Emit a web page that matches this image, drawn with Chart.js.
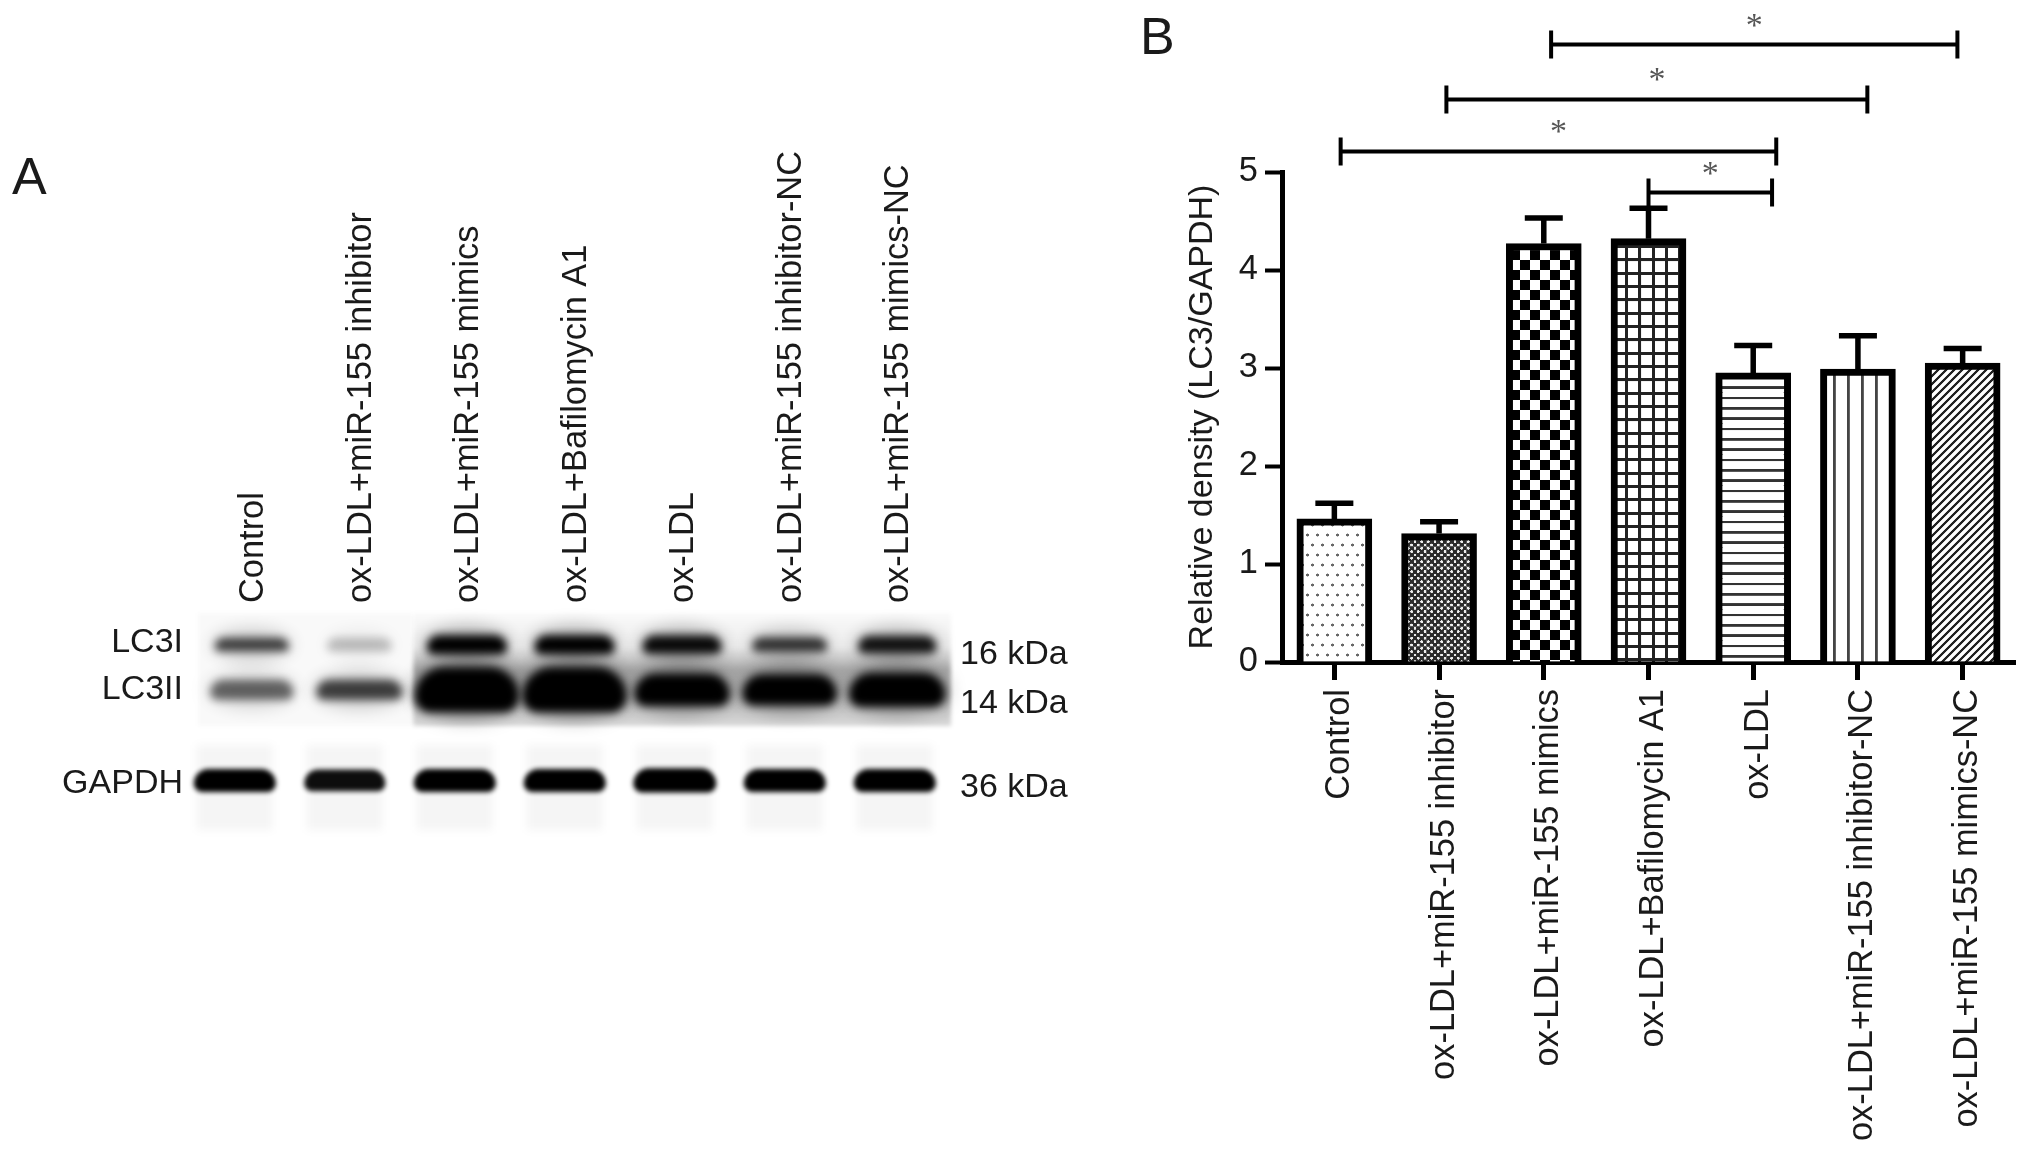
<!DOCTYPE html>
<html>
<head>
<meta charset="utf-8">
<title>LC3 blot and density</title>
<script src="https://cdn.jsdelivr.net/npm/chart.js@4"></script>
<style>
  html, body { margin: 0; padding: 0; background: #fff; }
  #page { position: relative; width: 2032px; height: 1153px; overflow: hidden; font-family: "Liberation Sans", Arial, sans-serif; color: #1a1a1a; }
  canvas { position: absolute; top: 0; }
  #blotChart { left: 0; }
  #densityChart { left: 1100px; }
  .note { position: absolute; font-size: 34px; line-height: 38px; white-space: nowrap; }
  .panel { position: absolute; font-size: 52px; line-height: 60px; }
</style>
</head>
<body>
<div id="page">
  <canvas id="blotChart" width="1100" height="1153"></canvas>
  <canvas id="densityChart" width="932" height="1153"></canvas>
  <div class="panel" style="left:12px;top:146px">A</div>
  <div class="panel" style="left:1140px;top:6px">B</div>
  <div class="note" style="right:1849px;top:621px">LC3I</div>
  <div class="note" style="right:1849px;top:668px">LC3II</div>
  <div class="note" style="right:1849px;top:762px">GAPDH</div>
  <div class="note" style="left:960px;top:633px">16 kDa</div>
  <div class="note" style="left:960px;top:682px">14 kDa</div>
  <div class="note" style="left:960px;top:766px">36 kDa</div>
</div>
<script>
const groups = [
  "Control",
  "ox-LDL+miR-155 inhibitor",
  "ox-LDL+miR-155 mimics",
  "ox-LDL+Bafilomycin A1",
  "ox-LDL",
  "ox-LDL+miR-155 inhibitor-NC",
  "ox-LDL+miR-155 mimics-NC"
];

// Panel B
const density = [1.46, 1.31, 4.27, 4.32, 2.95, 2.99, 3.05];
const errorTop = [1.62, 1.43, 4.53, 4.63, 3.23, 3.33, 3.2];
const yTicks = [0, 1, 2, 3, 4, 5];

// significance brackets: group index at each end (fractional), height in axis units
const bracketFrom = [0.06, 1.07, 2.07, 3.0];
const bracketTo = [4.22, 5.09, 5.95, 4.18];
const bracketY = [5.21, 5.74, 6.3, 4.79];

// Panel A, relative band strength per lane
const blotRows = ["LC3I", "LC3II", "", "GAPDH"];
const lc3I = [0.7, 0.22, 1, 1, 0.95, 0.75, 0.9];
const lc3II = [0.55, 0.7, 1.6, 1.6, 1.15, 1.1, 1.2];
const gapdh = [1, 0.95, 1, 1, 1.05, 1, 1];

const INK = "#000";
const TEXT = "#1a1a1a";
const FONT = "Liberation Sans";

function makePattern(w, h, paint) {
  const c = document.createElement("canvas");
  c.width = Math.round(w * 3);
  c.height = Math.round(h * 3);
  const g = c.getContext("2d");
  g.scale(3, 3);
  g.fillStyle = "#fff";
  g.fillRect(0, 0, w, h);
  paint(g);
  const p = g.createPattern(c, "repeat");
  p.setTransform(new DOMMatrix().scale(1 / 3));
  return p;
}

function dot(g, x, y, r) {
  g.beginPath();
  g.arc(x, y, r, 0, Math.PI * 2);
  g.fill();
}

const patterns = [
  makePattern(10, 20, g => {
    g.fillStyle = "#666";
    dot(g, 2.5, 5, 1.5);
    dot(g, 7.5, 15, 1.5);
  }),
  makePattern(6.6, 6.6, g => {
    g.fillStyle = "#2c2c2c";
    g.fillRect(0, 0, 6.6, 6.6);
    g.fillStyle = "#eee";
    dot(g, 1.65, 1.65, 1.35);
    dot(g, 4.95, 4.95, 1.35);
  }),
  makePattern(20, 20, g => {
    g.fillStyle = "#000";
    g.fillRect(0, 0, 10, 10);
    g.fillRect(10, 10, 10, 10);
  }),
  makePattern(13.4, 13.4, g => {
    g.fillStyle = "#222";
    g.fillRect(0, 5, 13.4, 3);
    g.fillRect(5, 0, 3, 13.4);
  }),
  makePattern(13.4, 10.2, g => {
    g.fillStyle = "#333";
    g.fillRect(0, 4, 13.4, 2.6);
  }),
  makePattern(14, 14, g => {
    g.fillStyle = "#444";
    g.fillRect(5, 0, 2.6, 14);
  }),
  makePattern(8, 8, g => {
    g.strokeStyle = "#222";
    g.lineWidth = 2.6;
    g.beginPath();
    g.moveTo(-2, 2);
    g.lineTo(2, -2);
    g.moveTo(-2, 10);
    g.lineTo(10, -2);
    g.moveTo(6, 10);
    g.lineTo(10, 6);
    g.stroke();
  })
];

// error whiskers, brackets and stars all go through the chart's scales
const annotations = {
  id: "annotations",
  afterDatasetsDraw(chart) {
    const { ctx, scales: { x, y } } = chart;
    ctx.save();
    ctx.strokeStyle = INK;
    ctx.lineCap = "butt";
    density.forEach((v, i) => {
      const px = x.getPixelForValue(i);
      const top = y.getPixelForValue(errorTop[i]);
      ctx.lineWidth = 5.5;
      ctx.beginPath();
      ctx.moveTo(px, y.getPixelForValue(v));
      ctx.lineTo(px, top);
      ctx.moveTo(px - 19, top);
      ctx.lineTo(px + 19, top);
      ctx.stroke();
    });
    ctx.lineWidth = 4;
    ctx.textAlign = "center";
    ctx.textBaseline = "middle";
    ctx.font = "34px 'Liberation Serif'";
    bracketY.forEach((v, i) => {
      const a = x.getPixelForValue(bracketFrom[i]);
      const b = x.getPixelForValue(bracketTo[i]);
      const h = y.getPixelForValue(v);
      ctx.beginPath();
      ctx.moveTo(a, h - 14);
      ctx.lineTo(a, h + 14);
      ctx.moveTo(b, h - 14);
      ctx.lineTo(b, h + 14);
      ctx.moveTo(a, h);
      ctx.lineTo(b, h);
      ctx.stroke();
      ctx.fillStyle = "#555";
      ctx.fillText("*", (a + b) / 2, h - 18);
    });
    ctx.restore();
  }
};

new Chart(document.getElementById("densityChart").getContext("2d"), {
  type: "bar",
  data: {
    labels: groups,
    datasets: [{
      data: density,
      backgroundColor: patterns,
      borderColor: INK,
      borderWidth: 7,
      barThickness: 75
    }]
  },
  plugins: [annotations],
  options: {
    responsive: false,
    animation: false,
    layout: { padding: { left: 0, top: 172, right: 17, bottom: 0 } },
    plugins: { legend: { display: false }, tooltip: { enabled: false } },
    scales: {
      x: {
        afterFit(s) { s.height = 491; },
        grid: { offset: false, drawOnChartArea: false, tickLength: 18, tickWidth: 5, tickColor: INK },
        border: { display: true, color: INK, width: 5 },
        ticks: {
          autoSkip: false, minRotation: 90, maxRotation: 90, padding: 9, labelOffset: 5,
          color: TEXT, font: { family: FONT, size: 34.4 }
        }
      },
      y: {
        min: 0,
        max: 5,
        afterFit(s) { s.width = 182; },
        afterBuildTicks(s) { s.ticks = yTicks.map(value => ({ value })); },
        grid: { drawOnChartArea: false, tickLength: 17, tickWidth: 4, tickColor: INK },
        border: { display: true, color: INK, width: 5 },
        ticks: { padding: 7, color: TEXT, font: { family: FONT, size: 34.4 } },
        title: {
          display: true,
          text: "Relative density (LC3/GAPDH)",
          color: TEXT,
          font: { family: FONT, size: 34 },
          padding: { top: 82, bottom: 0 }
        }
      }
    }
  }
});

// film background and the blurred bands
const blotFilm = {
  id: "blotFilm",
  beforeDatasetsDraw(chart) {
    const { ctx, chartArea: { left, right } } = chart;
    const laneW = (right - left) / groups.length;
    const top = 613, bottom = 726;
    ctx.save();
    ctx.filter = "blur(2px)";
    ctx.fillStyle = "rgba(0,0,0,0.025)";
    ctx.fillRect(left, top, laneW * 2, bottom - top);
    const grad = ctx.createLinearGradient(0, top, 0, bottom);
    grad.addColorStop(0, "rgba(0,0,0,0.02)");
    grad.addColorStop(0.3, "rgba(0,0,0,0.08)");
    grad.addColorStop(0.5, "rgba(0,0,0,0.34)");
    grad.addColorStop(0.8, "rgba(0,0,0,0.26)");
    grad.addColorStop(1, "rgba(0,0,0,0.15)");
    ctx.fillStyle = grad;
    ctx.fillRect(left + laneW * 2, top, right - left - laneW * 2, bottom - top);
    ctx.restore();

    // the GAPDH row runs slightly left of the LC3 rows on the film, more so in the first lanes
    const rows = [
      { base: 30, ry: 9.5, blur: 4.5, halo: 0.3, shift: () => 0 },
      { base: 36, ry: 14, blur: 4.5, halo: 0.3, shift: () => 0 },
      { base: 31, ry: 11.5, blur: 2.5, halo: 0, shift: i => -17 * (1 - i / groups.length) }
    ];
    rows.forEach((row, d) => {
      chart.getDatasetMeta(d).data.forEach((pt, i) => {
        const v = chart.data.datasets[d].data[i].v;
        const w = row.base + 10 * v;
        const h = row.ry * Math.max(0.7, v);
        const cx = pt.x + row.shift(i);
        ctx.save();
        if (d === 2) {
          // faint lane smear behind the loading control
          ctx.filter = "blur(4px)";
          ctx.fillStyle = "rgba(0,0,0,0.04)";
          ctx.fillRect(cx - 38, 745, 76, 85);
        }
        if (row.halo) {
          ctx.filter = "blur(9px)";
          ctx.fillStyle = `rgba(0,0,0,${row.halo * Math.min(1, v)})`;
          ctx.beginPath();
          ctx.ellipse(cx, pt.y, w + 3, h + 8, 0, 0, Math.PI * 2);
          ctx.fill();
        }
        ctx.filter = `blur(${row.blur}px)`;
        ctx.fillStyle = `rgba(0,0,0,${Math.min(1, v)})`;
        ctx.beginPath();
        ctx.roundRect(cx - w, pt.y - h, w * 2, h * 2, [h * 1.3, h * 1.3, h * 0.7, h * 0.7]);
        ctx.fill();
        ctx.restore();
      });
    });
  }
};

const rowPoints = (values, row) => values.map((v, i) => ({ x: groups[i], y: row, v }));

new Chart(document.getElementById("blotChart").getContext("2d"), {
  type: "scatter",
  data: {
    datasets: [
      { data: rowPoints(lc3I, "LC3I"), pointRadius: 0 },
      { data: rowPoints(lc3II, "LC3II"), pointRadius: 0 },
      { data: rowPoints(gapdh, "GAPDH"), pointRadius: 0 }
    ]
  },
  plugins: [blotFilm],
  options: {
    responsive: false,
    animation: false,
    layout: { padding: { left: 198, top: 100, right: 149, bottom: 350 } },
    plugins: { legend: { display: false }, tooltip: { enabled: false } },
    scales: {
      x: {
        type: "category",
        labels: groups,
        position: "top",
        offset: true,
        afterFit(s) { s.height = 522; },
        grid: { display: false, drawTicks: false },
        border: { display: false },
        ticks: {
          autoSkip: false, minRotation: 90, maxRotation: 90, padding: 19, labelOffset: 43,
          color: TEXT, font: { family: FONT, size: 34.4 }
        }
      },
      y: { type: "category", labels: blotRows, offset: true, display: false }
    }
  }
});
</script>
</body>
</html>
